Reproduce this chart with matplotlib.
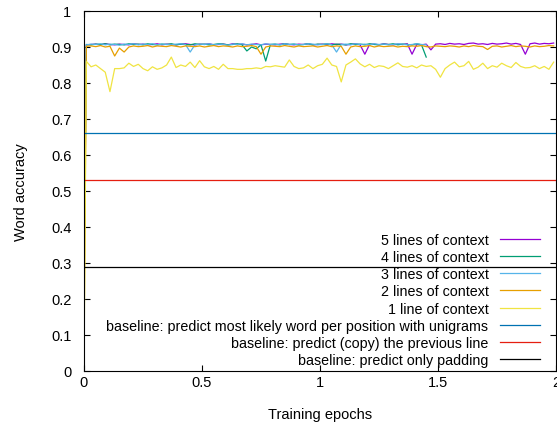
import numpy as np
import matplotlib
matplotlib.use("Agg")
import matplotlib.pyplot as plt

plt.rcParams['font.family'] = ['Liberation Sans', 'DejaVu Sans']

# evaluation points: start, then every 0.02 epochs
epochs = np.concatenate([[0.0], np.arange(0.01, 2.0, 0.02)])

ctx1 = [0.0,
        0.860, 0.845, 0.850, 0.840, 0.830, 0.776, 0.840, 0.840, 0.842, 0.855,
        0.846, 0.852, 0.840, 0.834, 0.845, 0.838, 0.842, 0.850, 0.872, 0.843,
        0.850, 0.846, 0.858, 0.843, 0.862, 0.845, 0.840, 0.846, 0.838, 0.852,
        0.840, 0.840, 0.838, 0.838, 0.840, 0.840, 0.842, 0.840, 0.846, 0.845,
        0.848, 0.846, 0.844, 0.864, 0.846, 0.840, 0.842, 0.850, 0.840, 0.848,
        0.852, 0.869, 0.850, 0.846, 0.803, 0.850, 0.858, 0.867, 0.853, 0.845,
        0.852, 0.843, 0.848, 0.846, 0.840, 0.848, 0.856, 0.846, 0.844, 0.848,
        0.842, 0.850, 0.846, 0.848, 0.838, 0.816, 0.840, 0.850, 0.858, 0.845,
        0.848, 0.860, 0.838, 0.844, 0.855, 0.840, 0.848, 0.844, 0.855, 0.848,
        0.843, 0.857, 0.846, 0.842, 0.843, 0.848, 0.840, 0.846, 0.838, 0.858]

ctx2 = [0.05,
        0.902, 0.903, 0.901, 0.904, 0.900, 0.902, 0.875, 0.897, 0.886, 0.900,
        0.903, 0.901, 0.902, 0.904, 0.900, 0.903, 0.902, 0.901, 0.904, 0.902,
        0.900, 0.903, 0.902, 0.901, 0.903, 0.900, 0.902, 0.904, 0.901, 0.903,
        0.902, 0.900, 0.903, 0.901, 0.902, 0.904, 0.901, 0.880, 0.900, 0.903,
        0.902, 0.901, 0.904, 0.902, 0.900, 0.903, 0.901, 0.902, 0.903, 0.900,
        0.902, 0.904, 0.901, 0.903, 0.902, 0.880, 0.900, 0.903, 0.901, 0.902,
        0.904, 0.900, 0.903, 0.901, 0.902, 0.903, 0.900, 0.902, 0.901, 0.903,
        0.902, 0.904, 0.901, 0.900, 0.903, 0.902, 0.901, 0.903, 0.902, 0.900,
        0.903, 0.901, 0.904, 0.902, 0.901, 0.893, 0.902, 0.903, 0.900, 0.902,
        0.904, 0.901, 0.903, 0.902, 0.900, 0.903, 0.901, 0.902, 0.904, 0.903]

ctx3 = [0.30,
        0.906, 0.908, 0.907, 0.909, 0.906, 0.908, 0.907, 0.905, 0.908, 0.907,
        0.909, 0.906, 0.908, 0.907, 0.909, 0.906, 0.908, 0.907, 0.906, 0.908,
        0.909, 0.907, 0.886, 0.906, 0.908, 0.907, 0.909, 0.906, 0.908, 0.907,
        0.905, 0.908, 0.907, 0.909, 0.906, 0.908, 0.907, 0.906, 0.909, 0.907,
        0.908, 0.906, 0.909, 0.907, 0.908, 0.906, 0.907, 0.909, 0.908, 0.906,
        0.907, 0.909, 0.906, 0.886, 0.907, 0.908, 0.906, 0.909, 0.907, 0.908,
        0.906, 0.909, 0.907, 0.908, 0.906, 0.907, 0.909, 0.908, 0.906, 0.907,
        0.909, 0.907, 0.906]

ctx4 = [0.25,
        0.907, 0.906, 0.908, 0.907, 0.909, 0.906, 0.908, 0.907, 0.906, 0.909,
        0.907, 0.908, 0.906, 0.909, 0.907, 0.906, 0.908, 0.907, 0.909, 0.906,
        0.908, 0.907, 0.906, 0.909, 0.907, 0.908, 0.906, 0.907, 0.909, 0.908,
        0.906, 0.907, 0.909, 0.906, 0.889, 0.900, 0.895, 0.906, 0.861, 0.907,
        0.908, 0.906, 0.909, 0.907, 0.908, 0.906, 0.907, 0.909, 0.906, 0.908,
        0.907, 0.909, 0.906, 0.908, 0.907, 0.906, 0.909, 0.907, 0.908, 0.906,
        0.909, 0.907, 0.906, 0.908, 0.907, 0.909, 0.906, 0.908, 0.907, 0.906,
        0.909, 0.906, 0.872]

ctx5 = [0.20,
        0.906, 0.907, 0.908, 0.906, 0.909, 0.907, 0.906, 0.908, 0.907, 0.906,
        0.909, 0.907, 0.908, 0.906, 0.907, 0.909, 0.906, 0.908, 0.907, 0.906,
        0.908, 0.909, 0.907, 0.906, 0.908, 0.907, 0.909, 0.906, 0.907, 0.908,
        0.906, 0.909, 0.907, 0.908, 0.906, 0.907, 0.909, 0.906, 0.908, 0.907,
        0.906, 0.908, 0.909, 0.907, 0.906, 0.908, 0.907, 0.909, 0.906, 0.907,
        0.908, 0.906, 0.909, 0.907, 0.908, 0.906, 0.907, 0.909, 0.906, 0.880,
        0.907, 0.908, 0.906, 0.909, 0.907, 0.906, 0.908, 0.907, 0.909, 0.880,
        0.907, 0.906, 0.908, 0.892, 0.908, 0.909, 0.907, 0.910, 0.908, 0.909,
        0.907, 0.910, 0.911, 0.908, 0.909, 0.907, 0.910, 0.908, 0.909, 0.911,
        0.908, 0.910, 0.907, 0.880, 0.909, 0.911, 0.908, 0.910, 0.909, 0.911]

baseline_unigram = 0.66
baseline_copy = 0.53
baseline_padding = 0.29

labels = ["5 lines of context", "4 lines of context", "3 lines of context",
          "2 lines of context", "1 line of context",
          "baseline: predict most likely word per position with unigrams",
          "baseline: predict (copy) the previous line",
          "baseline: predict only padding"]
colors = ["#9400d3", "#009e73", "#56b4e9", "#e69f00", "#f0e442",
          "#0072b2", "#e51e10", "#000000"]

fig = plt.figure(figsize=(5.57, 4.27), dpi=100)
ax = fig.add_axes([84/557, 55/427, 472/557, 360/427])

series = [ctx5, ctx4, ctx3, ctx2, ctx1]
for vals, lab, col in zip(series, labels[:5], colors[:5]):
    ax.plot(epochs[:len(vals)], vals, color=col, lw=0.9, label=lab)

for val, lab, col in zip([baseline_unigram, baseline_copy, baseline_padding],
                         labels[5:], colors[5:]):
    ax.plot([0, 2], [val, val], color=col, lw=0.9, label=lab)

ax.set_xlim(0, 2)
ax.set_ylim(0, 1)
ax.set_xticks([0, 0.5, 1, 1.5, 2])
ax.set_xticklabels(["0", "0.5", "1", "1.5", "2"])
ax.set_yticks(np.arange(0, 1.01, 0.1))
ax.set_yticklabels(["0", "0.1", "0.2", "0.3", "0.4", "0.5", "0.6", "0.7", "0.8", "0.9", "1"])
ax.tick_params(axis='both', direction='in', length=4, width=0.8, labelsize=10.5,
               top=True, right=True, colors='#000000')
ax.tick_params(axis='x', pad=3)
ax.tick_params(axis='y', pad=9)
ax.set_xlabel("Training epochs", fontsize=10.5, labelpad=13)
ax.set_ylabel("Word accuracy", fontsize=10.5, labelpad=17)

leg = ax.legend(loc='lower right', bbox_to_anchor=(1 - 16/472, 4/360),
                frameon=False, markerfirst=False, fontsize=10.3,
                handlelength=2.8, handletextpad=0.8, labelspacing=0.22,
                borderaxespad=0, borderpad=0)

fig.savefig("out.png", dpi=100)
